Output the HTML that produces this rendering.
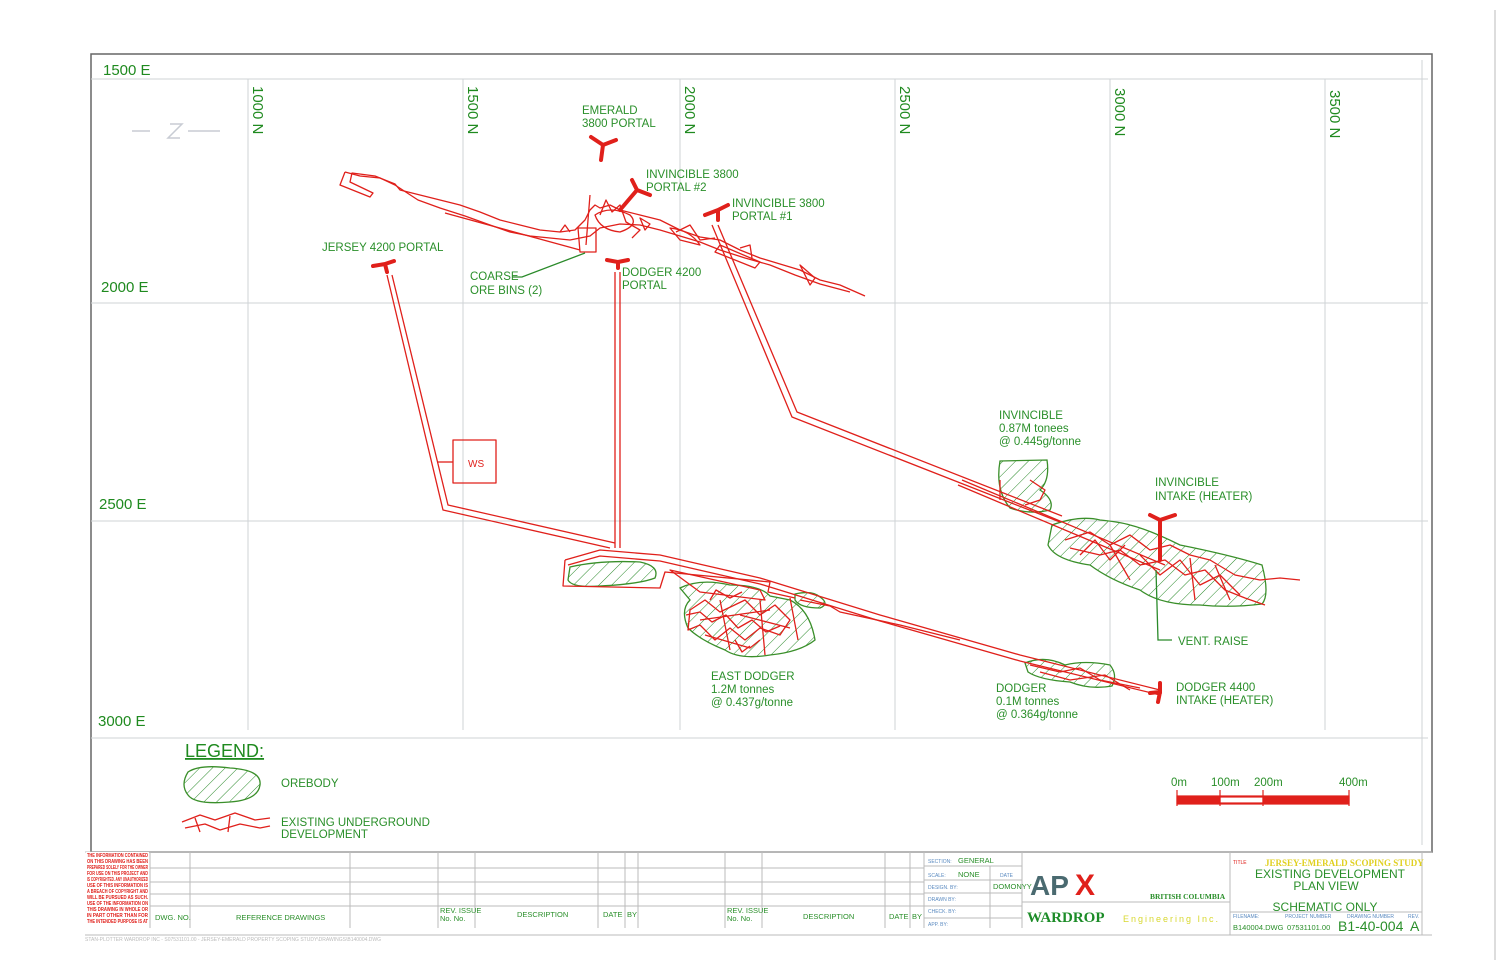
<!DOCTYPE html>
<html><head><meta charset="utf-8"><style>
html,body{margin:0;padding:0;background:#fff;}
svg{display:block;font-family:"Liberation Sans Narrow","Liberation Sans",sans-serif;}
.g{fill:#1f8a1f;}
.gt{fill:#2a8f2a;font-size:11.5px;}
</style></head><body>
<svg width="1500" height="971" viewBox="0 0 1500 971" xmlns="http://www.w3.org/2000/svg">
<defs>
<pattern id="h" width="9" height="9" patternUnits="userSpaceOnUse" patternTransform="rotate(45)">
<line x1="0" y1="0" x2="0" y2="9" stroke="#2a8a2a" stroke-width="1"/>
</pattern>
</defs>
<rect width="1500" height="971" fill="#fff"/>
<rect x="91" y="54" width="1341" height="798" fill="none" stroke="#666" stroke-width="1.5"/>
<line x1="1495" y1="10" x2="1495" y2="960" stroke="#bbb"/>
<g stroke="#cfd3d6" stroke-width="1">
<line x1="91" y1="79" x2="1428" y2="79"/>
<line x1="91" y1="303" x2="1428" y2="303"/>
<line x1="91" y1="521" x2="1428" y2="521"/>
<line x1="91" y1="738" x2="1428" y2="738"/>
<line x1="248" y1="79" x2="248" y2="730"/>
<line x1="463" y1="79" x2="463" y2="730"/>
<line x1="680" y1="79" x2="680" y2="730"/>
<line x1="895" y1="79" x2="895" y2="730"/>
<line x1="1110" y1="79" x2="1110" y2="730"/>
<line x1="1325" y1="79" x2="1325" y2="730"/>
<line x1="1422" y1="60" x2="1422" y2="845"/>
</g>
<g class="g" font-size="15">
<text x="103" y="75">1500 E</text>
<text x="101" y="292">2000 E</text>
<text x="99" y="509">2500 E</text>
<text x="98" y="726">3000 E</text>
</g>
<g class="g" font-size="15">
<text transform="translate(253,86) rotate(90)">1000 N</text>
<text transform="translate(468,86) rotate(90)">1500 N</text>
<text transform="translate(685,86) rotate(90)">2000 N</text>
<text transform="translate(900,86) rotate(90)">2500 N</text>
<text transform="translate(1115,88) rotate(90)">3000 N</text>
<text transform="translate(1330,90) rotate(90)">3500 N</text>
</g>
<g stroke="#c8ccd4" stroke-width="1.5" fill="none"><path d="M132 131 L150 131 M170 124 L182 124 L168 138 L180 138 M188 131 L220 131"/></g>

<g fill="url(#h)" stroke="#3a8f2a" stroke-width="1.3">
<path d="M570 567 Q600 560 640 562 Q660 566 655 578 Q640 584 600 586 Q572 588 568 580 Z"/>
<path d="M680 588 Q700 578 730 585 Q760 585 770 596 L790 600 Q810 610 815 640 Q800 652 770 655 Q740 660 725 650 Q700 640 688 628 Q680 610 690 600 Z"/>
<path d="M795 594 Q812 590 820 597 Q830 604 820 608 Q800 608 795 600 Z"/>
<path d="M1000 461 L1047 460 Q1050 480 1040 490 Q1055 500 1050 510 Q1030 515 1010 508 Q995 490 1000 461 Z"/>
<path d="M1052 525 Q1080 515 1100 520 Q1120 522 1130 525 Q1150 530 1180 545 Q1230 555 1262 565 Q1270 595 1262 604 Q1230 608 1200 605 Q1160 605 1140 590 Q1110 580 1090 565 Q1055 560 1048 545 Z"/>
<path d="M1025 663 Q1045 655 1065 665 Q1085 660 1110 665 Q1118 675 1112 686 Q1090 690 1070 682 Q1040 680 1028 672 Z"/>
</g>

<g fill="none" stroke="#e0201b" stroke-width="1.3" stroke-linejoin="round">
<path d="M345 172 L340 185 L370 197 L373 193 L350 182 L352 173 L375 176 L395 184 L400 190 L420 195 L440 200 L460 205 L480 212 L500 220 L520 225 L540 230 L560 232 L575 230 L585 220 L590 210 L595 205 L600 208 L610 205 L620 210 L640 215 L660 220 L680 230 L700 237 L720 240 L740 250 L760 258 L780 264 L800 270 L820 280 L840 285 L865 296"/>
<path d="M345 172 L360 176 L380 178 L395 185 L418 200 L440 208 L465 216 L490 225 L510 232 L530 236 L550 238 L570 240 L590 236 L600 228 L620 224 L640 225 L660 230 L680 236 L700 242 L720 250 L745 258 L770 265 L795 275 L820 284 L850 292"/>
<path d="M445 213 L580 250 M590 195 L586 245 M578 228 L596 228 L596 252 L580 252 Z"/>
<path d="M595 215 Q610 205 630 215 Q640 225 620 232 Q600 230 595 215 Z M640 218 L650 224 L645 230 Z M670 228 Q690 230 700 245 L680 240 Z M720 245 L760 262 L755 268 L715 252 Z M800 265 L815 278 L810 285 Z"/>
<path d="M600 215 L606 200 L612 212 L620 205 L626 222 L640 230 L632 238 M560 232 L565 225 L570 232 M676 232 L690 225 L700 240 L715 238 M740 248 L750 245 L752 258"/>
<path d="M387 275 L443 510 L610 548 M392 275 L448 505 L615 543"/>
<path d="M437 462 L453 462"/>
<rect x="453" y="440" width="43" height="43"/>
<path d="M615 272 L615 548 M620 272 L620 548"/>
<path d="M712 225 L792 417 L1060 522 M718 225 L797 412 L1062 516"/>
<path d="M958 485 L1160 570 M962 480 L1165 565"/>
<path d="M565 560 L600 550 L660 555 L760 578 L880 615 L1020 655 L1160 690 M568 565 L600 556 L660 561 L760 584 L880 621 L1020 661 L1160 695"/>
<path d="M565 560 L563 586 L660 588 L665 572 L770 582 L768 592 L795 598"/>
<path d="M670 570 L760 590 L765 600 L700 592 Z"/>
<path d="M690 610 L705 600 L720 612 L745 600 L760 615 L775 605 L790 620 L780 635 L760 628 L745 640 L730 628 L715 640 L700 625 L688 630 Z"/>
<path d="M700 620 L770 610 M720 600 L730 650 M760 600 L765 655 M740 615 L790 628 M705 635 L750 648 L760 640 M790 598 L798 640"/>
<path d="M686 615 L700 612 L712 622 L726 615 L738 628 L752 620 L766 632 L780 626 M710 600 L716 590 L730 598 L742 592 M735 640 L742 652 L750 646"/>
<path d="M800 600 L830 606 L840 612 L900 625 L960 640"/>
<path d="M1030 665 L1060 672 L1080 668 L1100 680 L1140 688 M1040 672 L1070 680 L1105 675 L1130 690"/>
<path d="M1065 540 L1090 532 L1110 545 L1130 535 L1150 550 L1170 545 L1190 555 L1210 560 L1235 575 L1260 580 L1280 578 L1300 580"/>
<path d="M1070 548 L1100 555 L1120 550 L1140 565 L1165 560 L1185 575 L1205 570 L1225 590 L1245 598 L1265 605"/>
<path d="M1080 555 L1095 540 L1110 560 L1125 545 M1140 555 L1160 575 L1180 560 L1200 585 L1220 575 L1240 595 M1030 480 L1045 490 L1040 500 L1025 505 M1000 480 L1000 500"/>
<path d="M1110 545 L1130 580 M1190 558 L1195 600 M1215 565 L1230 600"/>
<path d="M182 822 L200 815 L215 820 L235 813 L255 820 L270 818 M185 828 L205 824 L220 830 L240 824 L260 828 L270 826 M195 818 L200 832 M230 816 L228 832"/>
</g>
<path d="M1156 570 L1158 640 L1172 640" fill="none" stroke="#2a8a2a" stroke-width="1.3"/>
<path d="M512 277 L522 277 L585 253" fill="none" stroke="#2a8a2a" stroke-width="1.3"/>

<g stroke="#e0201b" stroke-width="4" stroke-linecap="round" fill="none">
<path d="M601 160 L603 145 L591 137 M603 145 L616 140"/>
<path d="M620 210 L637 190 L632 180 M637 190 L650 195"/>
<path d="M718 220 L718 210 L705 215 M718 210 L728 205"/>
<path d="M387 272 L385 264 L373 266 M385 264 L394 261"/>
<path d="M618 268 L618 262 L607 260 M618 262 L628 260"/>
<path d="M1160 560 L1160 520 L1150 515 M1160 520 L1175 515"/>
<path d="M1150 693 L1160 692 L1160 683 M1160 692 L1158 702"/>
</g>

<g class="gt">
<text x="582" y="114">EMERALD</text><text x="582" y="127">3800 PORTAL</text>
<text x="646" y="178">INVINCIBLE 3800</text><text x="646" y="191">PORTAL #2</text>
<text x="732" y="207">INVINCIBLE 3800</text><text x="732" y="220">PORTAL #1</text>
<text x="322" y="251">JERSEY 4200 PORTAL</text>
<text x="470" y="280">COARSE</text><text x="470" y="294">ORE BINS (2)</text>
<text x="622" y="276">DODGER 4200</text><text x="622" y="289">PORTAL</text>
<text x="468" y="467" fill="#e0201b" font-size="10">WS</text>
<text x="999" y="419">INVINCIBLE</text><text x="999" y="432">0.87M tonees</text><text x="999" y="445">@ 0.445g/tonne</text>
<text x="1155" y="486">INVINCIBLE</text><text x="1155" y="500">INTAKE (HEATER)</text>
<text x="1178" y="645">VENT. RAISE</text>
<text x="711" y="680">EAST DODGER</text><text x="711" y="693">1.2M tonnes</text><text x="711" y="706">@ 0.437g/tonne</text>
<text x="996" y="692">DODGER</text><text x="996" y="705">0.1M tonnes</text><text x="996" y="718">@ 0.364g/tonne</text>
<text x="1176" y="691">DODGER 4400</text><text x="1176" y="704">INTAKE (HEATER)</text>
<text x="281" y="787">OREBODY</text>
<text x="281" y="826">EXISTING UNDERGROUND</text><text x="281" y="838">DEVELOPMENT</text>
<text x="1171" y="786">0m</text><text x="1211" y="786">100m</text><text x="1254" y="786">200m</text><text x="1339" y="786">400m</text>
</g>
<text x="185" y="757" class="g" font-size="18" text-decoration="underline">LEGEND:</text>
<path d="M188 772 Q200 764 230 768 Q262 770 260 785 Q258 800 230 802 Q195 805 188 795 Q180 785 188 772 Z" fill="url(#h)" stroke="#3a8f2a" stroke-width="1.3"/>
<g stroke="#e0201b" stroke-width="1.2">
<rect x="1177" y="796" width="172" height="8" fill="#e0201b"/>
<rect x="1220" y="797" width="43" height="6" fill="#fff"/>
<line x1="1177" y1="790" x2="1177" y2="806"/><line x1="1220" y1="790" x2="1220" y2="806"/><line x1="1263" y1="790" x2="1263" y2="806"/><line x1="1349" y1="790" x2="1349" y2="806"/>
</g>

<g stroke="#bbb" stroke-width="1" fill="none">
<line x1="85" y1="852" x2="1432" y2="852"/>
<line x1="85" y1="935" x2="1432" y2="935"/>
<line x1="150" y1="852" x2="150" y2="928"/>
<line x1="190" y1="852" x2="190" y2="928"/>
<line x1="350" y1="852" x2="350" y2="928"/>
<line x1="438" y1="852" x2="438" y2="928"/>
<line x1="475" y1="852" x2="475" y2="928"/>
<line x1="598" y1="852" x2="598" y2="928"/>
<line x1="625" y1="852" x2="625" y2="928"/>
<line x1="638" y1="852" x2="638" y2="928"/>
<line x1="725" y1="852" x2="725" y2="928"/>
<line x1="762" y1="852" x2="762" y2="928"/>
<line x1="885" y1="852" x2="885" y2="928"/>
<line x1="910" y1="852" x2="910" y2="928"/>
<line x1="924" y1="852" x2="924" y2="928"/>
<line x1="990" y1="866" x2="990" y2="928"/>
<line x1="1022" y1="852" x2="1022" y2="928"/>
<line x1="1230" y1="852" x2="1230" y2="935"/>
<line x1="1422" y1="852" x2="1422" y2="935"/>
<line x1="1230" y1="912" x2="1422" y2="912"/>
<line x1="924" y1="866" x2="1022" y2="866"/><line x1="924" y1="880" x2="1022" y2="880"/><line x1="924" y1="893" x2="1022" y2="893"/><line x1="924" y1="906" x2="1022" y2="906"/><line x1="924" y1="918" x2="1022" y2="918"/>
<line x1="1022" y1="902" x2="1230" y2="902"/>
<line x1="150" y1="906" x2="924" y2="906"/>
<line x1="150" y1="868" x2="924" y2="868"/><line x1="150" y1="882" x2="924" y2="882"/><line x1="150" y1="894" x2="924" y2="894"/>
</g>
<rect x="86" y="852" width="63" height="72" fill="#fff"/>
<text font-size="5.4" fill="#e0201b" font-weight="bold" font-family="Liberation Sans Narrow, Liberation Sans, sans-serif">
<tspan x="87" y="857" textLength="61" lengthAdjust="spacingAndGlyphs">THE INFORMATION CONTAINED</tspan><tspan x="87" y="863" textLength="61" lengthAdjust="spacingAndGlyphs">ON THIS DRAWING HAS BEEN</tspan><tspan x="87" y="869" textLength="61" lengthAdjust="spacingAndGlyphs">PREPARED SOLELY FOR THE OWNER</tspan><tspan x="87" y="875" textLength="61" lengthAdjust="spacingAndGlyphs">FOR USE ON THIS PROJECT AND</tspan><tspan x="87" y="881" textLength="61" lengthAdjust="spacingAndGlyphs">IS COPYRIGHTED. ANY UNAUTHORIZED</tspan><tspan x="87" y="887" textLength="61" lengthAdjust="spacingAndGlyphs">USE OF THIS INFORMATION IS</tspan><tspan x="87" y="893" textLength="61" lengthAdjust="spacingAndGlyphs">A BREACH OF COPYRIGHT AND</tspan><tspan x="87" y="899" textLength="61" lengthAdjust="spacingAndGlyphs">WILL BE PURSUED AS SUCH.</tspan><tspan x="87" y="905" textLength="61" lengthAdjust="spacingAndGlyphs">USE OF THE INFORMATION ON</tspan><tspan x="87" y="911" textLength="61" lengthAdjust="spacingAndGlyphs">THIS DRAWING IN WHOLE OR</tspan><tspan x="87" y="917" textLength="61" lengthAdjust="spacingAndGlyphs">IN PART OTHER THAN FOR</tspan><tspan x="87" y="923" textLength="61" lengthAdjust="spacingAndGlyphs">THE INTENDED PURPOSE IS AT</tspan>
</text>
<g fill="#2a8f2a" font-size="7.5">
<text x="155" y="920">DWG. NO.</text><text x="236" y="920">REFERENCE DRAWINGS</text>
<text x="440" y="913">REV. ISSUE</text><text x="440" y="921">No.  No.</text>
<text x="517" y="917">DESCRIPTION</text><text x="603" y="917">DATE</text><text x="627" y="917">BY</text>
<text x="727" y="913">REV. ISSUE</text><text x="727" y="921">No.  No.</text>
<text x="803" y="919">DESCRIPTION</text><text x="889" y="919">DATE</text><text x="912" y="919">BY</text>
<text x="958" y="863">GENERAL</text><text x="958" y="877">NONE</text><text x="993" y="889">DOMONYY</text>
<text x="1150" y="899" font-family="Liberation Serif" font-weight="bold">BRITISH COLUMBIA</text>
</g>
<g fill="#5a8ac0" font-size="5">
<text x="928" y="863">SECTION:</text><text x="928" y="877">SCALE:</text><text x="1000" y="877">DATE</text><text x="928" y="889">DESIGN. BY:</text><text x="928" y="901">DRAWN BY:</text><text x="928" y="913">CHECK. BY:</text><text x="928" y="926">APP. BY:</text>
<text x="1233" y="918">FILENAME:</text><text x="1285" y="918">PROJECT NUMBER</text><text x="1347" y="918">DRAWING NUMBER</text><text x="1408" y="918">REV.</text>
</g>
<text x="1030" y="895" font-size="28" font-weight="bold" fill="#4a6a70" font-family="Liberation Sans">AP</text>
<text x="1075" y="895" font-size="30" font-weight="bold" fill="#e0201b" font-family="Liberation Sans">X</text>
<text x="1027" y="922" font-size="15" font-weight="bold" fill="#1c8c28" font-family="Liberation Serif">WARDROP</text>
<text x="1123" y="922" font-size="9" fill="#d8d830" letter-spacing="2">Engineering Inc.</text>
<text x="1233" y="864" font-size="5" fill="#e0201b">TITLE</text>
<text x="1265" y="866" font-size="9" fill="#e0d020" font-family="Liberation Serif" font-weight="bold">JERSEY-EMERALD SCOPING STUDY</text>
<g fill="#2a8f2a" font-size="12" text-anchor="middle">
<text x="1330" y="878">EXISTING DEVELOPMENT</text><text x="1326" y="890">PLAN VIEW</text><text x="1325" y="911">SCHEMATIC ONLY</text>
</g>
<g fill="#2a8f2a" font-size="7.5"><text x="1233" y="930">B140004.DWG</text><text x="1287" y="930">07531101.00</text></g>
<text x="1338" y="931" font-size="14" fill="#2a8f2a">B1-40-004</text>
<text x="1410" y="931" font-size="14" fill="#2a8f2a">A</text>
<text x="85" y="941" font-size="5" fill="#bbb">STAN-PLOTTER WARDROP INC - S07531101.00 - JERSEY-EMERALD PROPERTY SCOPING STUDY\DRAWINGS\B140004.DWG</text>
</svg>
</body></html>
